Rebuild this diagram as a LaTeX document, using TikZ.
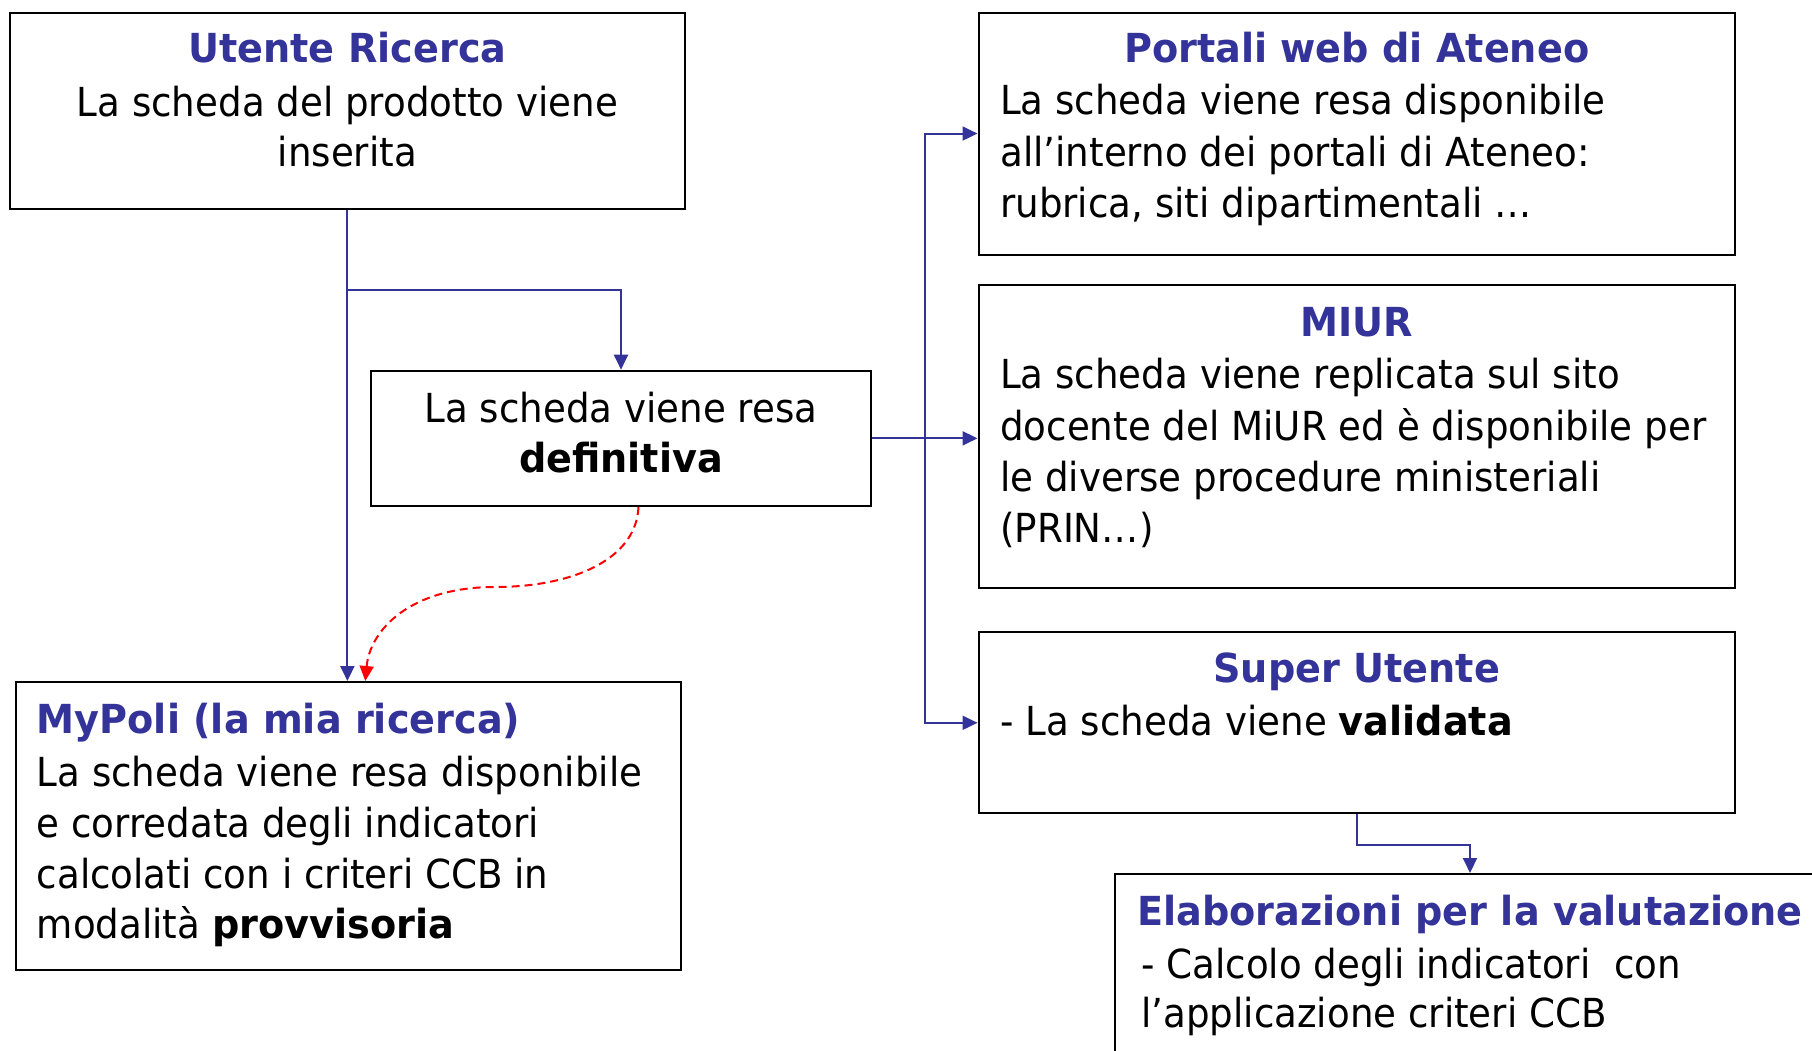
\documentclass[tikz,border=0pt]{standalone}
\usepackage{fontspec}
\setmainfont{DejaVu Sans}[FakeStretch=0.93,BoldFeatures={FakeStretch=0.955}]
\usetikzlibrary{arrows.meta,calc}
\definecolor{pblue}{HTML}{333399}
\definecolor{pred}{HTML}{FF0000}
\begin{document}
\begin{tikzpicture}[x=1pt,y=-1pt,
  box/.style={draw=black, line width=2pt, inner sep=0pt, rectangle},
  txt/.style={inner sep=0pt, font=\fontsize{40}{48}\selectfont},
  ttl/.style={inner sep=0pt, text=pblue, font=\fontsize{40}{48}\selectfont\bfseries},
  conn/.style={draw=pblue, line width=2pt, -{Triangle[length=15pt,width=14pt]}},
  dconn/.style={draw=pred, line width=2pt, dash pattern=on 8pt off 5pt, -{Triangle[length=15pt,width=14pt,fill=pred]}}]
\useasboundingbox (0,0) rectangle (1812,1051);
\clip (0,0) rectangle (1812,1051);

% boxes
\node[box, minimum width=675.2pt, minimum height=196.6pt] (A) at (347.4,111) {};
\node[box, minimum width=499.5pt, minimum height=135.3pt] (B) at (621,438.35) {};
\node[box, minimum width=665.4pt, minimum height=288pt] (C) at (348.3,826) {};
\node[box, minimum width=756.3pt, minimum height=241.9pt] (D) at (1356.65,133.55) {};
\node[box, minimum width=756.3pt, minimum height=302.5pt] (E) at (1356.65,436.25) {};
\node[box, minimum width=756.3pt, minimum height=181pt] (F) at (1356.65,722.8) {};
\node[box, minimum width=710pt, minimum height=226pt] (G) at (1470,987) {};

% texts A
\node[ttl, anchor=base] (a1) at (347.4,63) {Utente Ricerca};
\node[txt, anchor=base] (a2) at (347.4,117) {La scheda del prodotto viene};
\node[txt, anchor=base] (a3) at (347.4,167) {inserita};
% texts B
\node[txt, anchor=base] (b1) at (621,422) {La scheda viene resa};
\node[txt, anchor=base] (b2) at (621,472) {\bfseries definitiva};
% texts C
\node[ttl, anchor=base west] (c1) at (36.6,733) {MyPoli (la mia ricerca)};
\node[txt, anchor=base west] (c2) at (36.6,786) {La scheda viene resa disponibile};
\node[txt, anchor=base west] (c3) at (36.6,837) {e corredata degli indicatori};
\node[txt, anchor=base west] (c4) at (36.6,888) {calcolati con i criteri CCB in};
\node[txt, anchor=base west] (c5) at (36.6,938) {modalità \textbf{provvisoria}};
% texts D
\node[ttl, anchor=base] (d1) at (1356.65,63) {Portali web di Ateneo};
\node[txt, anchor=base west] (d2) at (1000,115) {La scheda viene resa disponibile};
\node[txt, anchor=base west] (d3) at (1000,167) {all’interno dei portali di Ateneo:};
\node[txt, anchor=base west] (d4) at (1000,218) {rubrica, siti dipartimentali …};
% texts E
\node[ttl, anchor=base] (e1) at (1356.65,336) {MIUR};
\node[txt, anchor=base west] (e2) at (1000,388) {La scheda viene replicata sul sito};
\node[txt, anchor=base west] (e3) at (1000,440) {docente del MiUR ed è disponibile per};
\node[txt, anchor=base west] (e4) at (1000,491) {le diverse procedure ministeriali};
\node[txt, anchor=base west] (e5) at (1000,542) {(PRIN…)};
% texts F
\node[ttl, anchor=base] (f1) at (1356.65,682) {Super Utente};
\node[txt, anchor=base west] (f2) at (1000,735) {- La scheda viene \textbf{validata}};
% texts G
\node[ttl, anchor=base] (g1) at (1470,925) {Elaborazioni per la valutazione};
\node[txt, anchor=base west] (g2) at (1141,978) {- Calcolo degli indicatori\ \ con};
\node[txt, anchor=base west] (g3) at (1141,1027) {l’applicazione criteri CCB};

% connectors
\coordinate (j1) at ($(A.south)+(0,80)$);
\draw[conn] (A.south) -- (A.south |- C.north);
\draw[conn] (j1) -| (B.north);
\coordinate (bus) at (925,438.35);
\draw[conn] (B.east) -- (B.east -| E.west);
\draw[conn] (B.east) -- (bus) |- (D.west);
\draw[conn] (bus) |- (F.west);
\draw[conn] (F.south) -- ++(0,31) -| (G.north);
\draw[dconn] ($(B.south)+(17.5,0)$) .. controls ($(B.south)+(15,54)$) and (570,587) .. (495,587)
  .. controls (410,587) and (370,630) .. ($(C.north)+(17,0)$);
\end{tikzpicture}
\end{document}
